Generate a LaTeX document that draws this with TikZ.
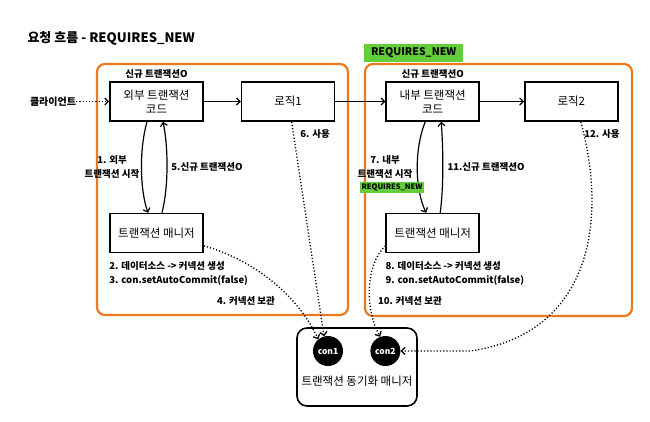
\documentclass[tikz,border=0pt]{standalone}
\usepackage{fontspec}
\setmainfont{Noto Sans CJK KR}
\usetikzlibrary{arrows.meta,positioning}
\definecolor{frameorange}{RGB}{238,120,28}
\definecolor{newgreen}{RGB}{98,206,60}

\begin{document}
\begin{tikzpicture}[
  x=1pt,y=-1pt,
  font=\fontsize{11.5}{14}\selectfont,
  box/.style={draw=black,line width=1.6pt,align=center,
    minimum width=93pt,minimum height=39pt,inner sep=1pt,fill=white},
  txframe/.style={draw=frameorange,line width=2.2pt,rounded corners=8pt},
  newtag/.style={fill=newgreen,font=\bfseries\fontsize{10.5}{12}\selectfont,inner sep=2pt},
  note/.style={font=\bfseries\fontsize{9.5}{14}\selectfont,align=center,inner sep=0pt},
  conn/.style={circle,fill=black,minimum size=30pt,inner sep=0pt,text=white,
    font=\bfseries\fontsize{8.5}{10}\selectfont},
  flow/.style={-{Straight Barb[length=3.5pt,width=7pt]},line width=1.2pt},
  dotflow/.style={flow,dotted,line width=1.3pt}
]
  \useasboundingbox (0,0) rectangle (650,421);

  \node[font=\bfseries\fontsize{13}{15}\selectfont,anchor=west] (title) at (24,38) {요청 흐름 - REQUIRES\_NEW};

  \node[txframe,minimum width=251pt,minimum height=251pt] (frameL) at (222.5,189.5) {};
  \node[txframe,minimum width=267pt,minimum height=252pt] (frameR) at (498.5,190) {};
  \node[newtag,anchor=south west,minimum width=99pt,minimum height=18pt]
    (tagR) at ([yshift=1pt]frameR.north west) {REQUIRES\_NEW};

  \node[box] (outer) at (156.5,101.5) {외부 트랜잭션\\코드};
  \node[box,right=37pt of outer] (logic1) {로직1};
  \node[box,right=50pt of logic1] (inner) {내부 트랜잭션\\코드};
  \node[box,right=44pt of inner] (logic2) {로직2};
  \node[box,below=91pt of outer] (tmL) {트랜잭션 매니저};
  \node[box,below=91pt of inner] (tmR) {트랜잭션 매니저};

  \node[note,above=3pt of outer] (newL) {신규 트랜잭션O};
  \node[note,above=3pt of inner] (newR) {신규 트랜잭션O};
  \node[note,font=\bfseries\fontsize{10}{12}\selectfont,left=33pt of outer] (client) {클라이언트};

  \draw[dotflow] (client) -- (outer);
  \draw[flow] (outer) -- (logic1);
  \draw[flow] (logic1) -- (inner);
  \draw[flow] (inner) -- (logic2);

  \draw[flow] ([xshift=-9.5pt]outer.south) .. controls (139,150) and (140,190) .. ([xshift=-8.5pt]tmL.north);
  \draw[flow] ([xshift=5.5pt]tmL.north) .. controls (169,185) and (168,145) .. ([xshift=6.5pt]outer.south);
  \draw[flow] ([xshift=-7.5pt]inner.south) .. controls (414,150) and (415,190) .. ([xshift=-6.5pt]tmR.north);
  \draw[flow] ([xshift=7.5pt]tmR.north) .. controls (444,185) and (443,145) .. ([xshift=8.5pt]inner.south);

  \node[note] (startL) at (112,167) {1. 외부\\트랜잭션 시작};
  \node[note] (backL) at (207,167) {5.신규 트랜잭션O};
  \node[note] (startR) at (385,167) {7. 내부\\트랜잭션 시작};
  \node[newtag,font=\bfseries\fontsize{7.5}{9}\selectfont,inner sep=1.5pt] (tagStart) at (392,187.5) {REQUIRES\_NEW};
  \node[note] (backR) at (486,167) {11.신규 트랜잭션O};
  \node[note] (useL) at (315,134) {6. 사용};
  \node[note] (useR) at (602,134) {12. 사용};

  \node[note,align=left,anchor=north west] (stepsL) at ([yshift=-8pt]tmL.south west)
    {2. 데이터소스 -> 커넥션 생성\\3. con.setAutoCommit(false)};
  \node[note,align=left,anchor=north west] (stepsR) at ([yshift=-8pt]tmR.south west)
    {8. 데이터소스 -> 커넥션 생성\\9. con.setAutoCommit(false)};
  \node[note] (keepL) at (246,301) {4. 커넥션 보관};
  \node[note] (keepR) at (410,301) {10. 커넥션 보관};

  \node[draw,line width=1.6pt,rounded corners=10pt,minimum width=120pt,minimum height=78pt] (sync) at (357,367) {};
  \node[conn] (con1) at (328,351) {con1};
  \node[conn,right=27pt of con1] (con2) {con2};
  \node (syncname) at (357,381) {트랜잭션 동기화 매니저};

  \draw[dotflow] ([xshift=3.5pt]logic1.south) -- (con1.105);
  \draw[dotflow] (tmL.-15) .. controls (260,262) and (300,300) .. (con1.130);
  \draw[dotflow] (tmR.195) .. controls (365,265) and (365,310) .. (con2.110);
  \draw[dotflow] ([xshift=9.5pt]logic2.south) .. controls (610,230) and (585,335) .. (470,351) -- (con2.east);
\end{tikzpicture}
\end{document}
